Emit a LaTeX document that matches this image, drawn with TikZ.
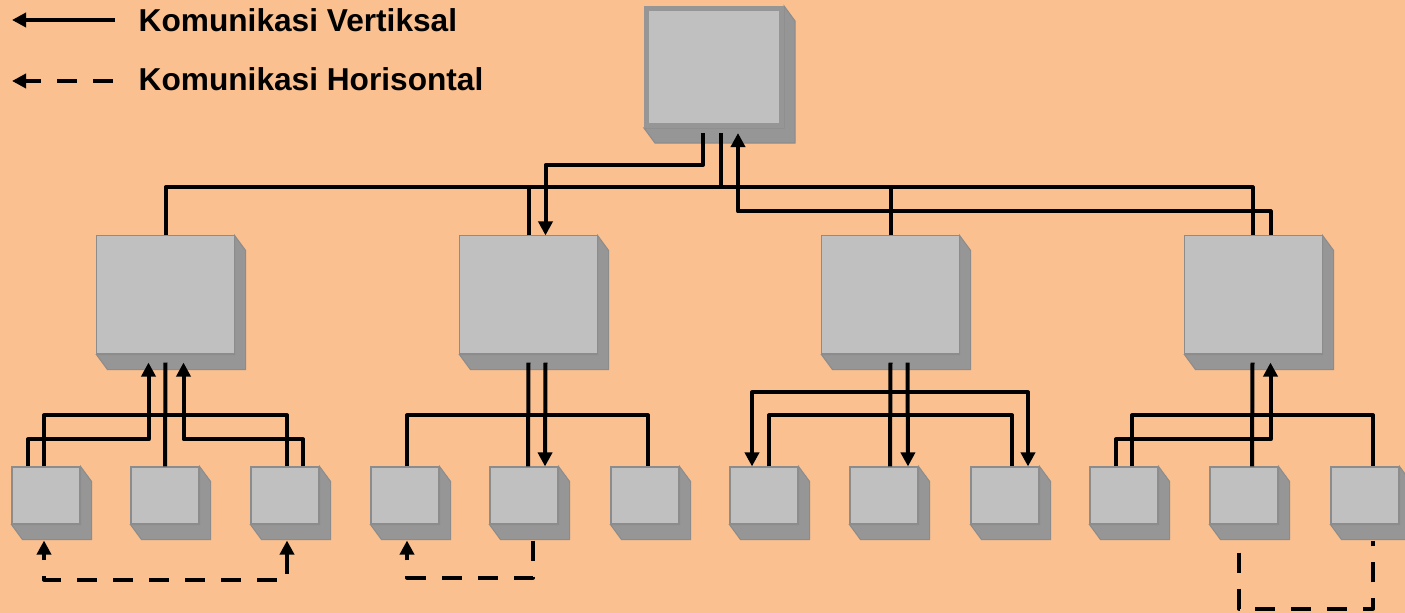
\documentclass[tikz,border=0pt]{standalone}
\usepackage{fontspec}
\setmainfont{Liberation Sans}
\usepackage{tikz}
\usetikzlibrary{positioning,calc,arrows.meta,backgrounds}

\definecolor{bgpeach}{HTML}{FAC090}
\definecolor{boxface}{HTML}{C0C0C0}
\definecolor{boxside}{HTML}{969696}
\definecolor{boxedge}{HTML}{8C8C8C}

\tikzset{
  smallcube/.style={draw=boxedge, fill=boxface, line width=0.3pt, inner sep=0pt,
    minimum width=0.68cm, minimum height=0.57cm},
  midcube/.style={smallcube, minimum width=1.37cm, minimum height=1.18cm},
  topcube/.style={draw=boxside, fill=boxface, line width=0.05cm, inner sep=0pt,
    minimum width=1.35cm, minimum height=1.17cm},
  vline/.style={line width=0.04cm, line join=round},
  hline/.style={vline, dash pattern=on 0.2cm off 0.16cm},
  legendtext/.style={font=\fontsize{9}{11}\selectfont\bfseries, inner sep=0pt, anchor=base west}
}

% side faces of a box
\newcommand{\boxshade}[1]{%
  \filldraw[fill=boxside, draw=boxedge, line width=0.3pt] (#1.north east) -- ++(11,15)
    -- ($(#1.south east)+(11,15)$) -- ($(#1.south west)+(11,15)$) -- (#1.south west)
    -- (#1.south east) -- cycle;}

\begin{document}
\begin{tikzpicture}[x=0.01cm, y=-0.01cm, >={Triangle[length=0.14cm,width=0.14cm]}]
    \useasboundingbox (0,0) rectangle (1405,613);

    % legend
    \coordinate (legv0) at (12,20);
    \coordinate (legv1) at (115,20);
    \coordinate (legh0) at (12,81);
    \coordinate (legh1) at (113,81);
    \draw[vline,->] (legv1) -- (legv0);
    \draw[hline,->] (legh1) -- (legh0);
    \node[legendtext] (legv) at (138,32) {Komunikasi Vertiksal};
    \node[legendtext] (legh) at (138,91) {Komunikasi Horisontal};

    % boxes
    \node[topcube] (top) at (714,67) {};

    \node[midcube] (m1) at (165.5,295) {};
    \node[midcube] (m2) at (528.5,295) {};
    \node[midcube] (m3) at (890.5,295) {};
    \node[midcube] (m4) at (1253.5,295) {};

    \node[smallcube] (s1) at (46,495.5) {};
    \node[smallcube] (s2) at (165,495.5) {};
    \node[smallcube] (s3) at (285,495.5) {};
    \node[smallcube] (s4) at (405,495.5) {};
    \node[smallcube] (s5) at (524,495.5) {};
    \node[smallcube] (s6) at (645,495.5) {};
    \node[smallcube] (s7) at (764,495.5) {};
    \node[smallcube] (s8) at (884,495.5) {};
    \node[smallcube] (s9) at (1005,495.5) {};
    \node[smallcube] (s10) at (1124,495.5) {};
    \node[smallcube] (s11) at (1244,495.5) {};
    \node[smallcube] (s12) at (1365,495.5) {};

    \begin{scope}[on background layer]
        \fill[bgpeach] (0,0) rectangle (1405,613);
        \clip (0,0) rectangle (1405,613);
        \foreach \n in {top,m1,m2,m3,m4,s1,s2,s3,s4,s5,s6,s7,s8,s9,s10,s11,s12} {\boxshade{\n}}
    \end{scope}

    % top level
    \draw[vline,->] ($(top.south)+(-11,5)$) -- ++(0,32) -| ($(m2.north)+(17,0)$);
    \draw[vline] ($(top.south)+(7,5)$) -- ++(0,55);
    \draw[vline] (m1.north) -- ++(0,-48) -| ($(m4.north)+(-1,0)$);
    \draw[vline] (m2.north) -- ++(0,-48);
    \draw[vline] (m3.north) -- ++(0,-48);
    \draw[vline,->] ($(m4.north)+(17,0)$) -- ++(0,-24) -| ($(top.south)+(24,5)$);

    % group 1
    \draw[vline] ($(m1.south)+(0,8)$) -- (s2.north);
    \draw[vline] ($(s1.north)+(-2,0)$) -- ++(0,-51) -| ($(s3.north)+(2,0)$);
    \draw[vline,->] ($(s1.north)+(-18,0)$) -- ++(0,-27) -| ($(m1.south)+(-17,8)$);
    \draw[vline,->] ($(s3.north)+(18,0)$) -- ++(0,-27) -| ($(m1.south)+(18,8)$);
    \draw[hline,<->] ($(s3.south)+(2,16)$) -- ++(0,39) -| ($(s1.south)+(-2,16)$);

    % group 2
    \draw[vline] ($(m2.south)+(0,8)$) -- ($(s5.north)+(4,0)$);
    \draw[vline,->] ($(m2.south)+(17,8)$) -- ($(s5.north)+(21,0)$);
    \draw[vline] ($(s4.north)+(2,0)$) -- ++(0,-51) -| ($(s6.north)+(3,0)$);
    \draw[hline,->] ($(s5.south)+(9,16)$) -- ++(0,37) -| ($(s4.south)+(2,16)$);

    % group 3
    \draw[vline] ($(m3.south)+(0,8)$) -- ($(s8.north)+(6,0)$);
    \draw[vline,->] ($(m3.south)+(17,8)$) -- ($(s8.north)+(24,0)$);
    \draw[vline,<->] ($(s7.north)+(-12,0)$) -- ++(0,-74) -| ($(s9.north)+(23,0)$);
    \draw[vline] ($(s7.north)+(5,0)$) -- ++(0,-51) -| ($(s9.north)+(7,0)$);

    % group 4
    \draw[vline] ($(m4.south)+(-1,8)$) -- ($(s11.north)+(8,0)$);
    \draw[vline,->] ($(s10.north)+(-8,0)$) -- ++(0,-27) -| ($(m4.south)+(17,8)$);
    \draw[vline] ($(s10.north)+(8,0)$) -- ++(0,-51) -| ($(s12.north)+(8,0)$);
    \draw[hline,dash phase=0.24cm] ($(s11.south)+(-5,16)$) -- ++(0,68) -| ($(s12.south)+(8,16)$);
\end{tikzpicture}
\end{document}
